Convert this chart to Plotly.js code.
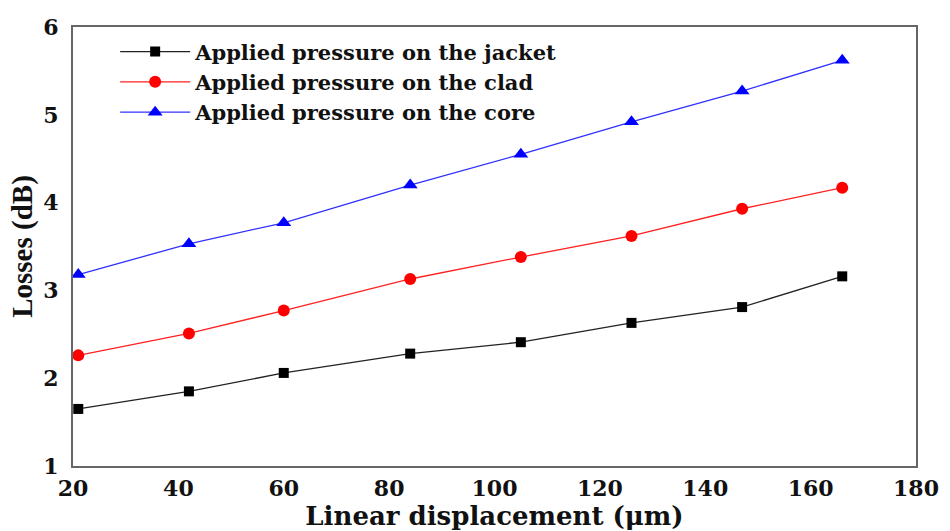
<!DOCTYPE html>
<html>
<head>
<meta charset="utf-8">
<script src="https://cdn.plot.ly/plotly-3.0.1.min.js"></script>
<style>html,body{margin:0;padding:0;background:#fff;}#chart{width:950px;height:531px;}</style>
</head>
<body>
<div id="chart"></div>
<script>
const displacement = [21, 42, 60, 84, 105, 126, 147, 166];
const lossJacket = [1.65, 1.85, 2.06, 2.28, 2.41, 2.63, 2.81, 3.16];
const lossClad = [2.26, 2.51, 2.77, 3.13, 3.38, 3.62, 3.93, 4.17];
const lossCore = [3.18, 3.53, 3.77, 4.20, 4.55, 4.92, 5.27, 5.62];
const seriesNames = ["Applied pressure on the jacket", "Applied pressure on the clad", "Applied pressure on the core"];
const xTicks = [20, 40, 60, 80, 100, 120, 140, 160, 180];
const yTicks = [1, 2, 3, 4, 5, 6];

const serifBold = "DejaVu Serif";
const traces = [
  {x: displacement, y: lossJacket, name: seriesNames[0], mode: "lines+markers",
   line: {color: "#222", width: 1.3}, marker: {symbol: "square", size: 10, color: "#000"}},
  {x: displacement, y: lossClad, name: seriesNames[1], mode: "lines+markers",
   line: {color: "#ff2020", width: 1.3}, marker: {symbol: "circle", size: 12, color: "#ff0000"}},
  {x: displacement, y: lossCore, name: seriesNames[2], mode: "lines+markers",
   line: {color: "#3030ff", width: 1.3}, marker: {symbol: "triangle-up", size: 13, color: "#0000ff"}}
];

const layout = {
  width: 950, height: 531,
  margin: {l: 73, r: 34, t: 27, b: 65},
  paper_bgcolor: "#fff", plot_bgcolor: "#fff",
  showlegend: true,
  legend: {x: 0.05, y: 0.99, xanchor: "left", yanchor: "top", bgcolor: "rgba(0,0,0,0)",
           itemwidth: 70,
           font: {family: serifBold, size: 21, color: "#111", weight: "bold"}, tracegroupgap: 0},
  xaxis: {range: [20, 180], tickvals: xTicks, ticktext: xTicks.map(String),
          showgrid: false, zeroline: false, showline: true, mirror: true,
          linecolor: "#666", linewidth: 2, ticks: "", ticklabelstandoff: 2,
          tickfont: {family: serifBold, size: 22, color: "#111", weight: "bold"},
          title: {text: "Linear displacement (μm)", standoff: 8,
                  font: {family: serifBold, size: 26, color: "#111", weight: "bold"}}},
  yaxis: {range: [1, 6], tickvals: yTicks, ticktext: yTicks.map(String),
          showgrid: false, zeroline: false, showline: true, mirror: true,
          linecolor: "#666", linewidth: 2, ticks: "", ticklabelstandoff: 8,
          tickfont: {family: serifBold, size: 22, color: "#111", weight: "bold"},
          title: {text: "Losses (dB)", standoff: 2,
                  font: {family: "Liberation Serif", size: 29, color: "#111", weight: "bold"}}}
};

Plotly.newPlot("chart", traces, layout, {displayModeBar: false, staticPlot: true});
</script>
</body>
</html>
